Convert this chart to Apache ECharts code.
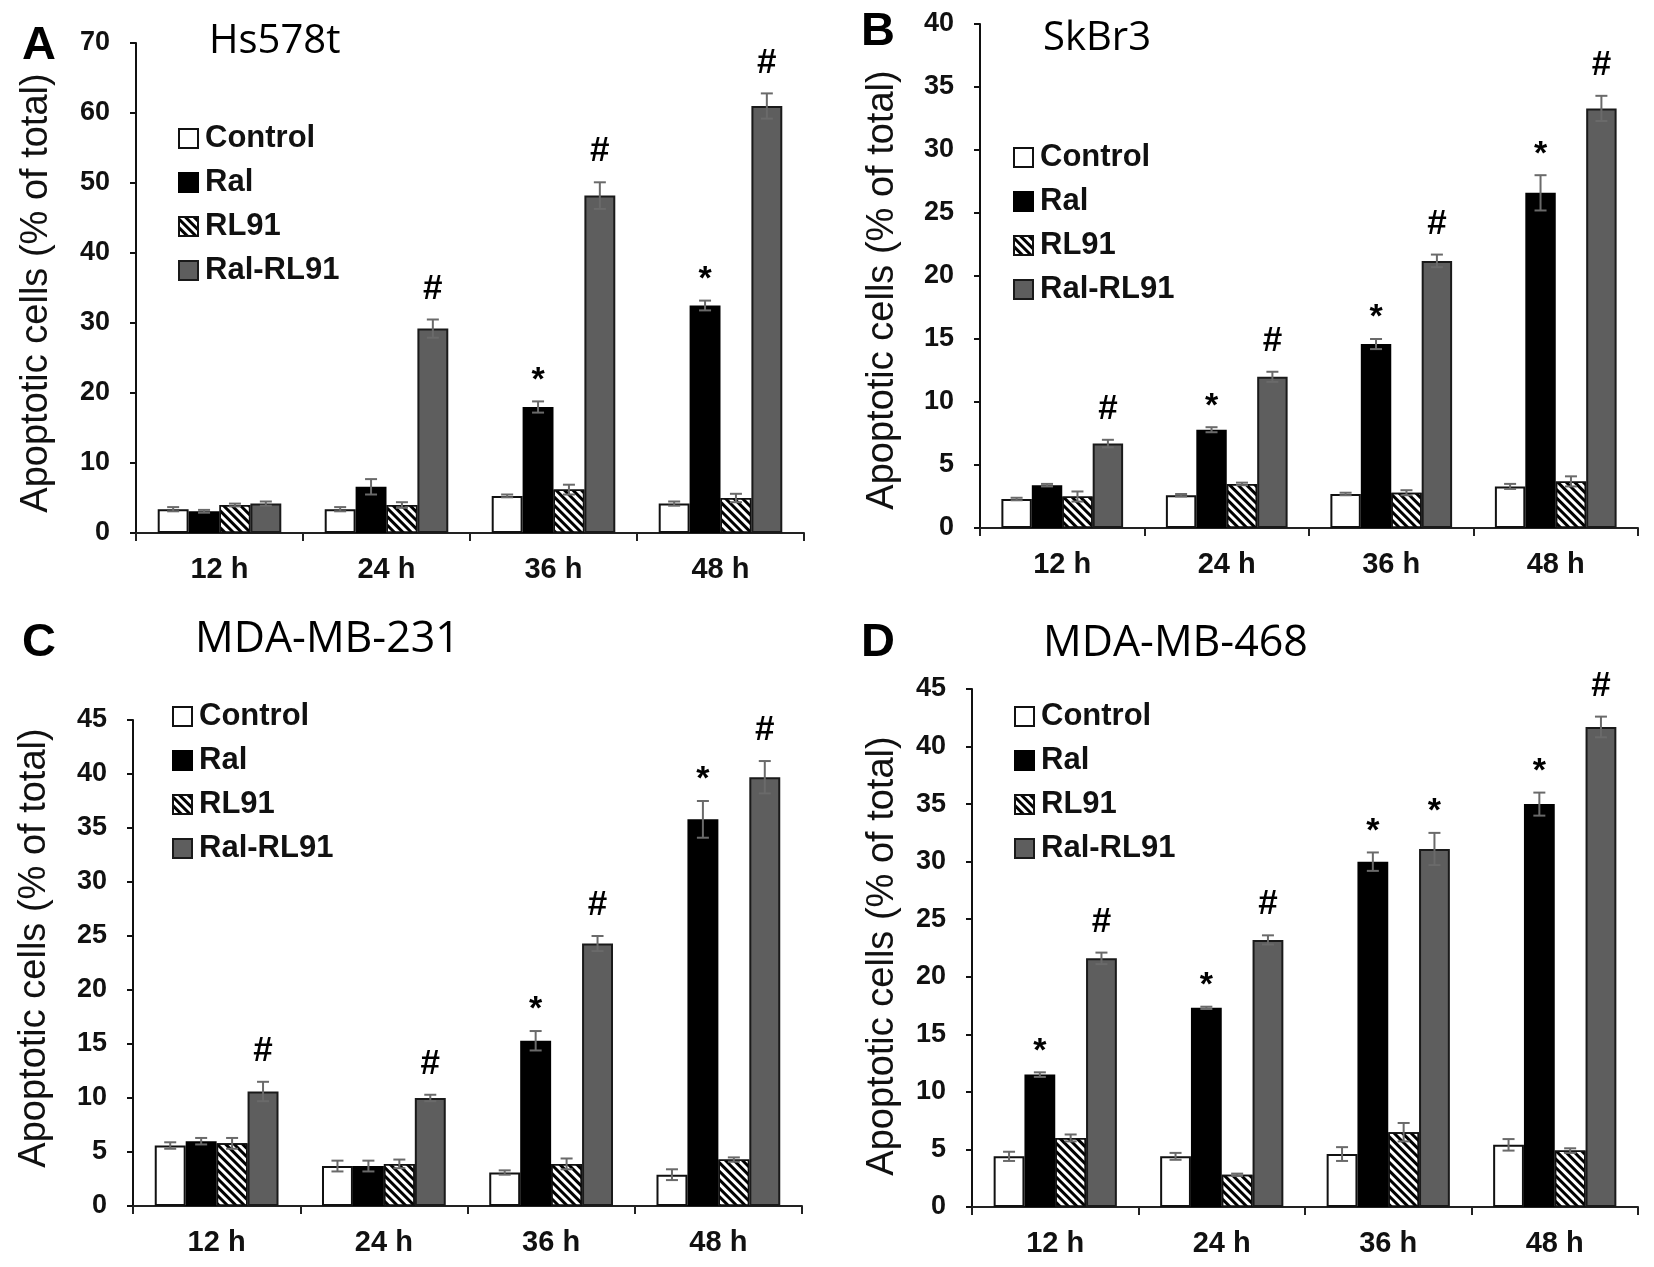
<!DOCTYPE html>
<html><head><meta charset="utf-8">
<script src="https://cdn.jsdelivr.net/npm/echarts@6/dist/echarts.min.js"></script>
<style>html,body{margin:0;padding:0;background:#fff}#c{width:1654px;height:1267px}</style>
</head><body><div id="c"></div>
<script>
// ---------- data ----------
const categories = ['12 h', '24 h', '36 h', '48 h'];
const groupNames = ['Control', 'Ral', 'RL91', 'Ral-RL91'];
const yTitle = 'Apoptotic cells (% of total)';

// Panel A: Hs578t
const hsControl = [3.4, 3.4, 5.3, 4.2];
const hsRal = [3.1, 6.6, 18.0, 32.5];
const hsRL91 = [4.0, 4.0, 6.2, 5.0];
const hsCombo = [4.2, 29.2, 48.2, 61.0];
const hsControlErr = [0.3, 0.3, 0.2, 0.3];
const hsRalErr = [0.2, 1.1, 0.8, 0.7];
const hsRL91Err = [0.2, 0.4, 0.7, 0.6];
const hsComboErr = [0.3, 1.3, 1.9, 1.8];
const hsRalMarks = ['', '', '*', '*'];
const hsComboMarks = ['', '#', '#', '#'];
const hsTicks = [0, 10, 20, 30, 40, 50, 60, 70];

// Panel B: SkBr3
const skControl = [2.3, 2.6, 2.7, 3.3];
const skRal = [3.4, 7.8, 14.6, 26.6];
const skRL91 = [2.5, 3.5, 2.8, 3.7];
const skCombo = [6.7, 12.0, 21.2, 33.3];
const skControlErr = [0.1, 0.1, 0.1, 0.2];
const skRalErr = [0.1, 0.2, 0.4, 1.4];
const skRL91Err = [0.4, 0.1, 0.2, 0.4];
const skComboErr = [0.3, 0.4, 0.5, 1.0];
const skRalMarks = ['', '*', '*', '*'];
const skComboMarks = ['#', '#', '#', '#'];
const skTicks = [0, 5, 10, 15, 20, 25, 30, 35, 40];

// Panel C: MDA-MB-231
const m231Control = [5.6, 3.7, 3.1, 2.9];
const m231Ral = [6.0, 3.7, 15.3, 35.8];
const m231RL91 = [5.8, 3.9, 3.9, 4.3];
const m231Combo = [10.6, 10.0, 24.3, 39.7];
const m231ControlErr = [0.3, 0.5, 0.2, 0.5];
const m231RalErr = [0.3, 0.5, 0.9, 1.7];
const m231RL91Err = [0.5, 0.4, 0.5, 0.2];
const m231ComboErr = [0.9, 0.3, 0.7, 1.5];
const m231RalMarks = ['', '', '*', '*'];
const m231ComboMarks = ['#', '#', '#', '#'];
const m231Ticks = [0, 5, 10, 15, 20, 25, 30, 35, 40, 45];

// Panel D: MDA-MB-468
const m468Control = [4.4, 4.4, 4.6, 5.4];
const m468Ral = [11.5, 17.3, 30.0, 35.0];
const m468RL91 = [6.0, 2.8, 6.5, 4.9];
const m468Combo = [21.6, 23.2, 31.1, 41.7];
const m468ControlErr = [0.4, 0.3, 0.6, 0.5];
const m468RalErr = [0.2, 0.1, 0.8, 1.0];
const m468RL91Err = [0.3, 0.1, 0.8, 0.2];
const m468ComboErr = [0.5, 0.4, 1.4, 0.9];
const m468RalMarks = ['*', '*', '*', '*'];
const m468ComboMarks = ['#', '#', '*', '#'];
const m468Ticks = [0, 5, 10, 15, 20, 25, 30, 35, 40, 45];

// ---------- layout ----------
const panels = [
  { letter: 'A', cell: 'Hs578t', cellSize: 40, vals: [hsControl, hsRal, hsRL91, hsCombo],
    errs: [hsControlErr, hsRalErr, hsRL91Err, hsComboErr],
    marks: [null, hsRalMarks, null, hsComboMarks], ticks: hsTicks,
    grid: { left: 136, top: 43, width: 668, height: 490 }, legend: { left: 178, top: 123 },
    nameGap: 80, namePad: [0, 10, 0, 0], letterPos: [22, 23], cellPos: [209, 22] },
  { letter: 'B', cell: 'SkBr3', cellSize: 40, vals: [skControl, skRal, skRL91, skCombo],
    errs: [skControlErr, skRalErr, skRL91Err, skComboErr],
    marks: [null, skRalMarks, null, skComboMarks], ticks: skTicks,
    grid: { left: 980, top: 24, width: 658, height: 504 }, legend: { left: 1013, top: 142 },
    nameGap: 78, namePad: [0, 28, 0, 0], letterPos: [861, 9], cellPos: [1043, 19] },
  { letter: 'C', cell: 'MDA-MB-231', cellSize: 43, vals: [m231Control, m231Ral, m231RL91, m231Combo],
    errs: [m231ControlErr, m231RalErr, m231RL91Err, m231ComboErr],
    marks: [null, m231RalMarks, null, m231ComboMarks], ticks: m231Ticks,
    grid: { left: 133, top: 720, width: 669, height: 486 }, legend: { left: 172, top: 701 },
    nameGap: 79, namePad: [0, 0, 0, 30], letterPos: [22, 620], cellPos: [195, 618] },
  { letter: 'D', cell: 'MDA-MB-468', cellSize: 43, vals: [m468Control, m468Ral, m468RL91, m468Combo],
    errs: [m468ControlErr, m468RalErr, m468RL91Err, m468ComboErr],
    marks: [null, m468RalMarks, null, m468ComboMarks], ticks: m468Ticks,
    grid: { left: 972, top: 689, width: 666, height: 518 }, legend: { left: 1014, top: 701 },
    nameGap: 70, namePad: [0, 16, 0, 0], letterPos: [861, 620], cellPos: [1043, 622] }
];

const BAR_FRAC = 0.185;
const styles = [
  { color: '#ffffff', borderColor: '#111', borderWidth: 2 },
  { color: '#000000', borderColor: '#000', borderWidth: 2 },
  { color: '#ffffff', borderColor: '#111', borderWidth: 1.5,
    decal: { symbol: 'rect', symbolSize: 1, dashArrayX: [1, 0], dashArrayY: [3, 3], rotation: Math.PI / 4, color: '#000' } },
  { color: '#5e5e5e', borderColor: '#1a1a1a', borderWidth: 2 }
];

const option = { backgroundColor: '#fff', animation: false, title: [], grid: [], xAxis: [], yAxis: [], legend: [], series: [] };
const tickFont = 'Liberation Sans, Arial, sans-serif';

panels.forEach((p, pi) => {
  option.title.push({ text: p.letter, left: p.letterPos[0], top: p.letterPos[1], padding: 0,
    textStyle: { fontFamily: tickFont, fontWeight: 'bold', fontSize: 47, color: '#000' } });
  option.title.push({ text: p.cell, left: p.cellPos[0], top: p.cellPos[1], padding: 0,
    textStyle: { fontFamily: 'Open Sans', fontWeight: 'normal', fontSize: p.cellSize, color: '#000' } });
  option.grid.push(Object.assign({ containLabel: false }, p.grid));
  option.xAxis.push({ type: 'category', gridIndex: pi, data: categories,
    axisLine: { lineStyle: { color: '#222', width: 2 } },
    axisTick: { show: true, length: 8, lineStyle: { color: '#222', width: 2 } },
    axisLabel: { fontFamily: tickFont, fontWeight: 'bold', fontSize: 29, color: '#111', margin: 22 } });
  const tmax = p.ticks[p.ticks.length - 1];
  option.yAxis.push({ type: 'value', gridIndex: pi, min: p.ticks[0], max: tmax, interval: p.ticks[1] - p.ticks[0],
    name: yTitle, nameLocation: 'middle', nameGap: p.nameGap,
    nameTextStyle: { fontFamily: tickFont, fontSize: 38, color: '#111', padding: p.namePad },
    splitLine: { show: false },
    axisLine: { show: true, lineStyle: { color: '#111', width: 2 } },
    axisTick: { show: true, length: 6, lineStyle: { color: '#111', width: 2 } },
    axisLabel: { fontFamily: tickFont, fontWeight: 'bold', fontSize: 27, color: '#111', margin: 26 } });
  option.legend.push({ orient: 'vertical', left: p.legend.left, top: p.legend.top, padding: 0,
    data: groupNames, icon: 'rect', itemWidth: 19, itemHeight: 19, itemGap: 13, selectedMode: false,
    textStyle: { fontFamily: tickFont, fontWeight: 'bold', fontSize: 31, lineHeight: 31, color: '#111', padding: [0, 0, 0, 2] } });
  groupNames.forEach((g, si) => {
    option.series.push({ type: 'bar', name: g, xAxisIndex: pi, yAxisIndex: pi, data: p.vals[si],
      barWidth: (BAR_FRAC * 100) + '%', barGap: '0%', itemStyle: styles[si], emphasis: { disabled: true } });
  });
  // error bars + significance marks
  const items = [];
  const markList = [];
  p.vals.forEach((arr, si) => arr.forEach((v, ci) => {
    items.push([ci, si, v, p.errs[si][ci]]);
    markList.push(p.marks[si] ? p.marks[si][ci] : '');
  }));
  option.series.push({ type: 'custom', xAxisIndex: pi, yAxisIndex: pi, data: items, z: 5, silent: true,
    renderItem: (params, api) => {
      const ci = api.value(0), si = api.value(1), v = api.value(2), e = api.value(3);
      const band = api.size([1, 0])[0];
      const bw = band * BAR_FRAC;
      const cx = api.coord([ci, 0])[0] - 2 * bw + (si + 0.5) * bw;
      const yt = api.coord([ci, v + e])[1];
      const yb = api.coord([ci, Math.max(v - e, 0)])[1];
      const hw = 6;
      const ls = { stroke: '#6a6a6a', lineWidth: 2 };
      const children = [
        { type: 'line', shape: { x1: cx, y1: yt, x2: cx, y2: yb }, style: ls },
        { type: 'line', shape: { x1: cx - hw, y1: yt, x2: cx + hw, y2: yt }, style: ls },
        { type: 'line', shape: { x1: cx - hw, y1: yb, x2: cx + hw, y2: yb }, style: ls }
      ];
      const m = markList[params.dataIndex];
      if (m) {
        const star = m === '*';
        children.push({ type: 'text', style: { text: m, x: cx, y: yt - (star ? 4 : 13),
          align: 'center', verticalAlign: 'bottom', fill: '#000',
          font: 'bold ' + (star ? 34 : 35) + 'px Liberation Sans, Arial, sans-serif' } });
      }
      return { type: 'group', children };
    } });
});

const chart = echarts.init(document.getElementById('c'), null, { renderer: 'canvas' });
chart.setOption(option);
</script>
</body></html>
